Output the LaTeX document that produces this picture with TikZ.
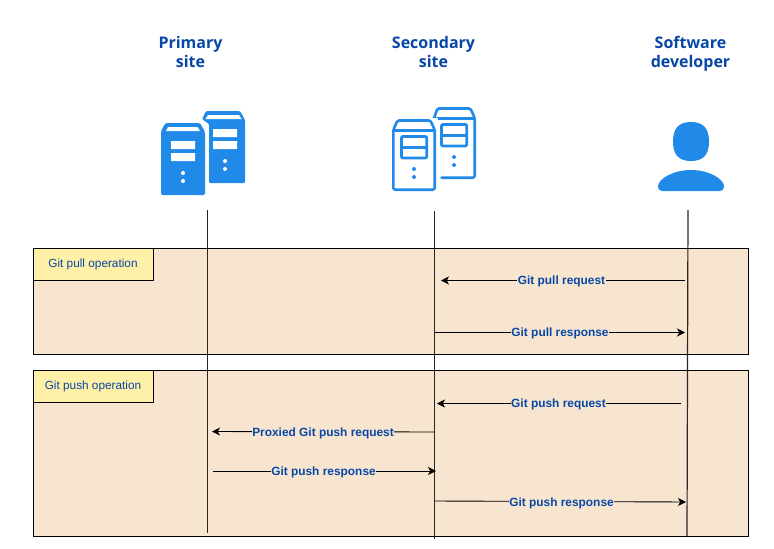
\documentclass[tikz,border=0pt]{standalone}
\usepackage{fontspec}
\setmainfont{Liberation Sans}
\newfontfamily\headfont{Open Sans}
\usetikzlibrary{arrows.meta}
\definecolor{headblue}{HTML}{0747A6}
\definecolor{iconblue}{HTML}{2189E8}
\definecolor{bandfill}{HTML}{F8E5CF}
\definecolor{notefill}{HTML}{FFF0A8}
\tikzset{
  x=1pt,y=-1pt,
  heading/.style={font=\headfont\bfseries\fontsize{16}{19}\selectfont,text=headblue,align=center,inner sep=0pt},
  band/.style={draw=black,fill=bandfill,line width=0.9pt},
  notebox/.style={draw=black,fill=notefill,line width=0.9pt,anchor=north west,outer sep=0pt,minimum width=120pt,minimum height=32pt,inner sep=0pt,
    font=\fontsize{11.8}{13}\selectfont,text=headblue},
  lifeline/.style={draw=black!85,line width=1.2pt},
  msg/.style={draw=black,line width=0.9pt,-{Stealth[length=8pt,width=8pt,inset=2.2pt]}},
  msglabel/.style={fill=bandfill,inner sep=0.6pt,font=\bfseries\fontsize{11.9}{13}\selectfont,text=headblue},
  outl/.style={draw=iconblue,line width=2.6pt,line join=round},
}
\begin{document}
\begin{tikzpicture}
\useasboundingbox (0,0) rectangle (774,549);
% headings
\node[heading] (hp) at (190.5,51.5) {Primary\\site};
\node[heading] (hs) at (433.5,51.5) {Secondary\\site};
\node[heading] (hd) at (690.5,53.3) {Software\\developer};
% primary icon
\fill[iconblue,rounded corners=1.2pt] (202,119) -- (206,111) -- (240,111) -- (245,120) -- (245,183) -- (209,183) -- (209,124) -- cycle;
\fill[white] (208,115) -- (239,115) -- (241.5,119) -- (205.5,119) -- cycle;
\fill[white] (213,129) rectangle (237,137) (213,141) rectangle (237,149);
\fill[white] (225,161) circle (2) (225,169) circle (2);
\fill[white] (157,129) -- (163,121) -- (202,121) -- (208,129) -- (208,198) -- (157,198) -- cycle;
\fill[iconblue,rounded corners=1.5pt] (161,131) -- (165.5,123) -- (200,123) -- (205,132) -- (205,195) -- (161,195) -- cycle;
\fill[white] (168,127) -- (197.5,127) -- (200,131) -- (166,131) -- cycle;
\fill[white] (171,141) rectangle (195,149) (171,153) rectangle (195,161);
\fill[white] (183,173) circle (2) (183,181) circle (2);
% secondary icon, back
\draw[outl,line cap=round,rounded corners=1.5pt] (433.5,119.5) -- (437.5,108.5) -- (470.5,108.5) -- (474.7,118) -- (474.7,177.7) -- (441.5,177.7);
\draw[outl,line cap=butt] (433.5,118.7) -- (474.7,118.7);
\draw[outl,rounded corners=1pt] (441.5,124.5) rectangle (466.7,146);
\draw[outl] (441.5,135.3) -- (466.7,135.3);
\fill[iconblue] (454,157) circle (2) (454,165) circle (2);
% secondary icon, front
\fill[white] (390,118) rectangle (438,193);
\draw[outl,fill=white,rounded corners=1.5pt] (393.3,130) -- (397.5,120.5) -- (430.5,120.5) -- (434.7,130) -- (434.7,189.7) -- (393.3,189.7) -- cycle;
\draw[outl] (393.3,130.5) -- (434.7,130.5);
\draw[outl,rounded corners=1pt] (401.5,136.5) rectangle (426.7,158);
\draw[outl] (401.5,147.3) -- (426.7,147.3);
\fill[iconblue] (414,169) circle (2) (414,177) circle (2);
% developer icon
\fill[iconblue] (691,122) .. controls (703,122) and (709,128) .. (709,141.5) .. controls (709,155) and (703,161) .. (691,161) .. controls (679,161) and (673,155) .. (673,141.5) .. controls (673,128) and (679,122) .. (691,122) -- cycle;
\fill[iconblue] (662,191) .. controls (659,191) and (658,188.5) .. (658,186.5) .. controls (658,179) and (673,170) .. (691,170) .. controls (709,170) and (724,179) .. (724,186.5) .. controls (724,188.5) and (723,191) .. (720,191) -- cycle;
% bands
\draw[band] (33.5,248.5) rectangle (748.6,354.5);
\draw[band] (33.5,370.5) rectangle (748.6,536.5);
\node[notebox] (pull) at (33.5,248.5) {\raisebox{-1.6pt}{\hspace*{-1pt}Git pull operation}};
\node[notebox] (push) at (33.5,370.5) {\raisebox{-1.6pt}{\hspace*{-1pt}Git push operation}};
% lifelines
\coordinate (pT) at (207.6,210); \coordinate (pB) at (207.6,533);
\coordinate (sT) at (434.5,211); \coordinate (sB) at (434.5,539);
\coordinate (dT) at (688,210); \coordinate (dB) at (687,536);
\draw[lifeline] (pT) -- (pB);
\draw[lifeline] (sT) -- (sB);
\draw[lifeline] (dT) -- (dB);
% message ends
\coordinate (a1) at (685,280.5); \coordinate (b1) at (441,280.5);
\coordinate (a2) at (435,332.5); \coordinate (b2) at (685,332.5);
\coordinate (a3) at (681,403.5); \coordinate (b3) at (437,403.5);
\coordinate (a4) at (434,432);   \coordinate (b4) at (212,431.5);
\coordinate (a5) at (213,471);   \coordinate (b5) at (436,471);
\coordinate (a6) at (435,501);   \coordinate (b6) at (686,502);
\draw[msg] (a1) -- (b1);
\draw[msg] (a2) -- (b2);
\draw[msg] (a3) -- (b3);
\draw[msg] (a4) -- (b4);
\draw[msg] (a5) -- (b5);
\draw[msg] (a6) -- (b6);
\node[msglabel] (l1) at (561.5,281.5) {Git pull request};
\node[msglabel] (l2) at (560,333.5) {Git pull response};
\node[msglabel] (l3) at (558.5,404.5) {Git push request};
\node[msglabel] (l4) at (323,433) {Proxied Git push request};
\node[msglabel] (l5) at (323.5,472.5) {Git push response};
\node[msglabel] (l6) at (561.5,503.5) {Git push response};
\end{tikzpicture}
\end{document}
